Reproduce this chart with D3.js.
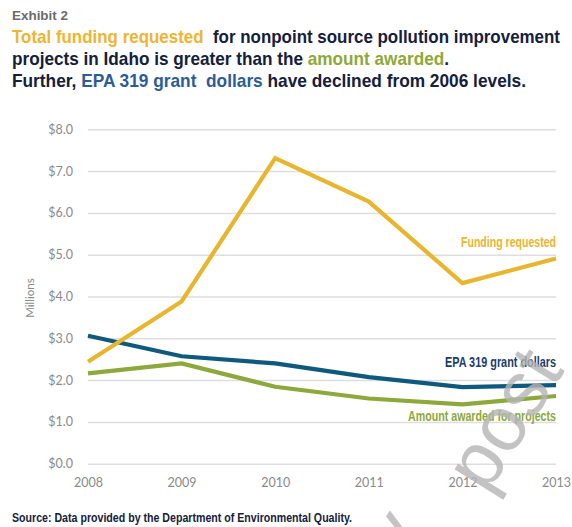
<!DOCTYPE html>
<html>
<head>
<meta charset="utf-8">
<script src="https://cdn.jsdelivr.net/npm/d3@7"></script>
<style>
  body { margin: 0; background: #fff; }
  .cond { font-family: "Liberation Sans", Arial, sans-serif; font-weight: bold; }
  .tick text { font-family: Lato, "Open Sans", sans-serif; font-size: 12.5px; fill: #8a8a8a; }
</style>
</head>
<body>
<script>
  // values, in millions of dollars
  const years = [2008, 2009, 2010, 2011, 2012, 2013];
  const requested = [2.44, 3.88, 7.31, 6.27, 4.32, 4.91];
  const epaGrant = [3.06, 2.57, 2.40, 2.07, 1.83, 1.88];
  const awarded = [2.16, 2.40, 1.84, 1.56, 1.42, 1.62];
  const yTicks = [0, 1, 2, 3, 4, 5, 6, 7, 8];

  const w = 572;
  const h = 527;

  const xScale = d3.scaleLinear()
                   .domain([2008, 2013])
                   .range([88, 556]);

  const yScale = d3.scaleLinear()
                   .domain([0, 8])
                   .range([463.7, 129.3]);

  const svg = d3.select("body")
                .append("svg")
                .attr("width", w)
                .attr("height", h);

  // the original uses a bold condensed face, so squeeze Liberation Sans to the same width
  function squeeze(sel, len) {
    sel.attr("textLength", len).attr("lengthAdjust", "spacingAndGlyphs");
  }

  // heading
  svg.append("text")
     .attr("class", "cond")
     .attr("x", 12).attr("y", 20)
     .attr("font-size", 13)
     .attr("fill", "#6b6b6b")
     .text("Exhibit 2")
     .call(squeeze, 56);

  const titleLines = [
    [["Total funding requested ", "#f0b430"], [" for nonpoint source pollution improvement", "#14203c"]],
    [["projects in Idaho is greater than the ", "#14203c"], ["amount awarded", "#8fa83a"], [".", "#14203c"]],
    [["Further, ", "#14203c"], ["EPA 319 grant  dollars", "#2c5c98"], [" have declined from 2006 levels.", "#14203c"]]
  ];
  const titleY = [43, 65, 87];
  const titleW = [548, 437, 514];

  titleLines.forEach((parts, i) => {
    const t = svg.append("text")
                 .attr("class", "cond")
                 .attr("x", 12)
                 .attr("y", titleY[i])
                 .attr("font-size", 19)
                 .attr("xml:space", "preserve");
    parts.forEach(p => t.append("tspan").attr("fill", p[1]).text(p[0]));
    squeeze(t, titleW[i]);
  });

  // y axis with grid lines
  const yAxis = d3.axisLeft(yScale)
                  .tickValues(yTicks)
                  .tickFormat(d => "$" + d.toFixed(1))
                  .tickSizeInner(-(556 - 88))
                  .tickSizeOuter(0)
                  .tickPadding(15);

  const gy = svg.append("g")
                .attr("transform", "translate(88,0)")
                .call(yAxis);
  gy.select(".domain").remove();
  gy.selectAll(".tick line").attr("stroke", "#dedede").attr("stroke-width", 1.5);

  const xAxis = d3.axisBottom(xScale)
                  .tickValues(years)
                  .tickFormat(d3.format("d"))
                  .tickSize(0)
                  .tickPadding(14);

  const gx = svg.append("g")
                .attr("transform", "translate(0," + yScale(0) + ")")
                .call(xAxis);
  gx.select(".domain").remove();

  svg.append("text")
     .attr("transform", "translate(34,298) rotate(-90)")
     .attr("text-anchor", "middle")
     .attr("font-family", "Lato, 'Open Sans', sans-serif")
     .attr("font-size", 11.5)
     .attr("fill", "#8a8a8a")
     .text("Millions");

  // series lines
  const series = [
    { values: awarded, color: "#8da83b", label: "Amount awarded for projects", labelY: 421, labelColor: "#8da83b", labelW: 148 },
    { values: epaGrant, color: "#0d5a7d", label: "EPA 319 grant dollars", labelY: 367, labelColor: "#1b3d6b", labelW: 111 },
    { values: requested, color: "#e9b52f", label: "Funding requested", labelY: 247, labelColor: "#e9b52f", labelW: 95 }
  ];

  const line = d3.line()
                 .x((d, i) => xScale(years[i]))
                 .y(d => yScale(d));

  series.forEach(s => {
    svg.append("path")
       .datum(s.values)
       .attr("d", line)
       .attr("fill", "none")
       .attr("stroke", s.color)
       .attr("stroke-width", 4.2);

    svg.append("text")
       .attr("class", "cond")
       .attr("x", 556)
       .attr("y", s.labelY)
       .attr("text-anchor", "end")
       .attr("font-size", 14)
       .attr("fill", s.labelColor)
       .text(s.label)
       .call(squeeze, s.labelW);
  });

  svg.append("text")
     .attr("class", "cond")
     .attr("x", 12).attr("y", 522)
     .attr("font-size", 12.5)
     .attr("fill", "#14203c")
     .text("Source: Data provided by the Department of Environmental Quality.")
     .call(squeeze, 340);

  // watermark across the lower right corner
  const wm = svg.append("text")
                .attr("transform", "translate(395,580) rotate(-58)")
                .attr("font-family", "'Liberation Sans', sans-serif")
                .attr("font-size", 78)
                .attr("fill", "#b4b4b4")
                .attr("fill-opacity", 0.8);
  wm.append("tspan").text("ly");
  wm.append("tspan").attr("dx", 64).attr("dy", 33).text("post");
</script>
</body>
</html>
